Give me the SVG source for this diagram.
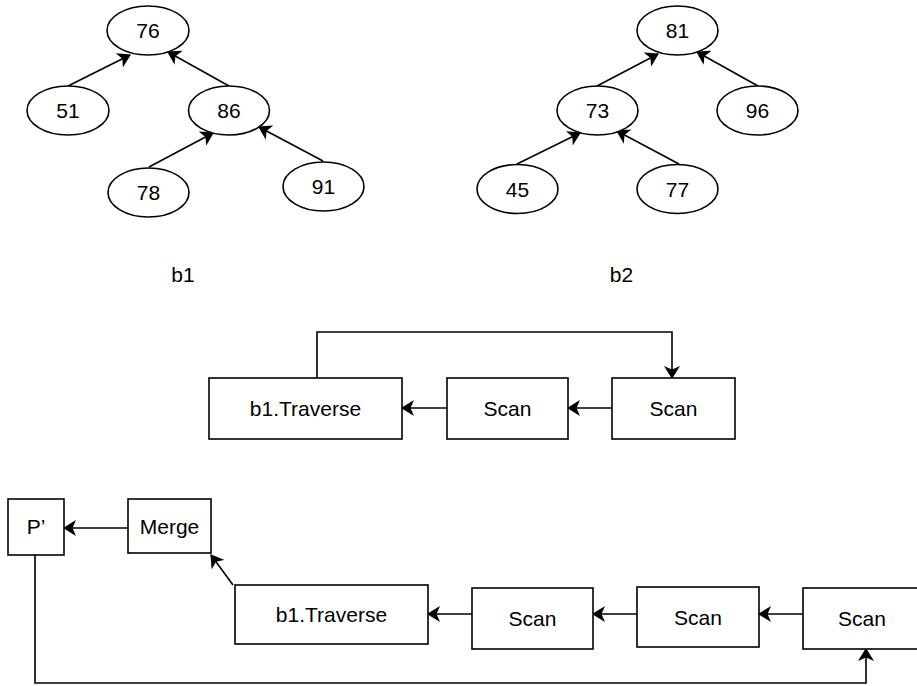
<svg xmlns="http://www.w3.org/2000/svg" width="917" height="686" viewBox="0 0 917 686">
<style>
  .n { fill: #ffffff; stroke: #000000; stroke-width: 1.6; }
  .t { font-family: "Liberation Sans", Arial, sans-serif; font-size: 21px; fill: #000000; text-anchor: middle; }
  .e { fill: none; stroke: #000000; stroke-width: 1.6; marker-end: url(#arr); }
</style>
<defs>
  <marker id="arr" markerUnits="userSpaceOnUse" markerWidth="13" markerHeight="16" viewBox="0 0 13 16" refX="12" refY="8" orient="auto">
    <path d="M0,0 L13,8 L0,16 L3.5,8 Z" fill="#000000"/>
  </marker>
</defs>
<rect width="917" height="686" fill="#ffffff"/>

<g id="connectors">
  <line class="e" x1="68" y1="86" x2="130" y2="55"/>
  <line class="e" x1="229" y1="86" x2="168" y2="52"/>
  <line class="e" x1="149" y1="167" x2="213" y2="133"/>
  <line class="e" x1="323" y1="161" x2="259" y2="127"/>
  <line class="e" x1="597" y1="86" x2="658" y2="54"/>
  <line class="e" x1="758" y1="86" x2="697" y2="52"/>
  <line class="e" x1="517" y1="164" x2="580" y2="133"/>
  <line class="e" x1="679" y1="164" x2="617" y2="131"/>
  <polyline class="e" points="317,378 317,332 672,332 672,378"/>
  <line class="e" x1="447" y1="408" x2="402" y2="408"/>
  <line class="e" x1="612" y1="408" x2="568" y2="408"/>
  <line class="e" x1="128" y1="528" x2="64" y2="528"/>
  <line class="e" x1="233" y1="585" x2="211" y2="555"/>
  <line class="e" x1="472" y1="614" x2="428" y2="614"/>
  <line class="e" x1="637" y1="614" x2="593" y2="614"/>
  <line class="e" x1="803" y1="614" x2="759" y2="614"/>
  <polyline class="e" points="35,555 35,683 866,683 866,649"/>
</g>

<g id="n76"><ellipse class="n" cx="148" cy="30.5" rx="41" ry="24.5"/><text class="t" x="148" y="38">76</text></g>
<g id="n51"><ellipse class="n" cx="68" cy="110.5" rx="41" ry="24.5"/><text class="t" x="68" y="118">51</text></g>
<g id="n86"><ellipse class="n" cx="229" cy="110.5" rx="40.5" ry="24.5"/><text class="t" x="229" y="118">86</text></g>
<g id="n78"><ellipse class="n" cx="148.5" cy="192.5" rx="40.5" ry="24.5"/><text class="t" x="148.5" y="200">78</text></g>
<g id="n91"><ellipse class="n" cx="323.5" cy="186.5" rx="40.5" ry="24.5"/><text class="t" x="323.5" y="194">91</text></g>

<g id="n81"><ellipse class="n" cx="677.5" cy="30.5" rx="40.5" ry="24.5"/><text class="t" x="677.5" y="38">81</text></g>
<g id="n73"><ellipse class="n" cx="597.5" cy="110.5" rx="40.5" ry="24.5"/><text class="t" x="597.5" y="118">73</text></g>
<g id="n96"><ellipse class="n" cx="757.5" cy="110.5" rx="40.5" ry="24.5"/><text class="t" x="757.5" y="118">96</text></g>
<g id="n45"><ellipse class="n" cx="517.5" cy="189" rx="40.5" ry="24.5"/><text class="t" x="517.5" y="196.5">45</text></g>
<g id="n77"><ellipse class="n" cx="677.5" cy="189" rx="40.5" ry="24.5"/><text class="t" x="677.5" y="196.5">77</text></g>

<g id="lb1"><text class="t" x="183" y="282">b1</text></g>
<g id="lb2"><text class="t" x="621.5" y="282">b2</text></g>

<g id="m_trav"><rect class="n" x="209" y="378" width="193" height="61"/><text class="t" x="305.5" y="415.5">b1.Traverse</text></g>
<g id="m_scan1"><rect class="n" x="447" y="378" width="121" height="61"/><text class="t" x="507.5" y="415.5">Scan</text></g>
<g id="m_scan2"><rect class="n" x="612" y="378" width="123" height="61"/><text class="t" x="673.5" y="415.5">Scan</text></g>

<g id="b_p"><rect class="n" x="8" y="499" width="56" height="56"/><text class="t" x="36" y="534">P’</text></g>
<g id="b_merge"><rect class="n" x="128" y="499" width="83" height="54"/><text class="t" x="169.5" y="533.5">Merge</text></g>
<g id="b_trav"><rect class="n" x="235" y="585" width="193" height="59"/><text class="t" x="331.5" y="621.5">b1.Traverse</text></g>
<g id="b_scan1"><rect class="n" x="472" y="588" width="121" height="61"/><text class="t" x="532.5" y="626">Scan</text></g>
<g id="b_scan2"><rect class="n" x="637" y="587" width="122" height="60"/><text class="t" x="698" y="624.5">Scan</text></g>
<g id="b_scan3"><rect class="n" x="803" y="588" width="120" height="61"/><text class="t" x="862" y="626">Scan</text></g>
</svg>
